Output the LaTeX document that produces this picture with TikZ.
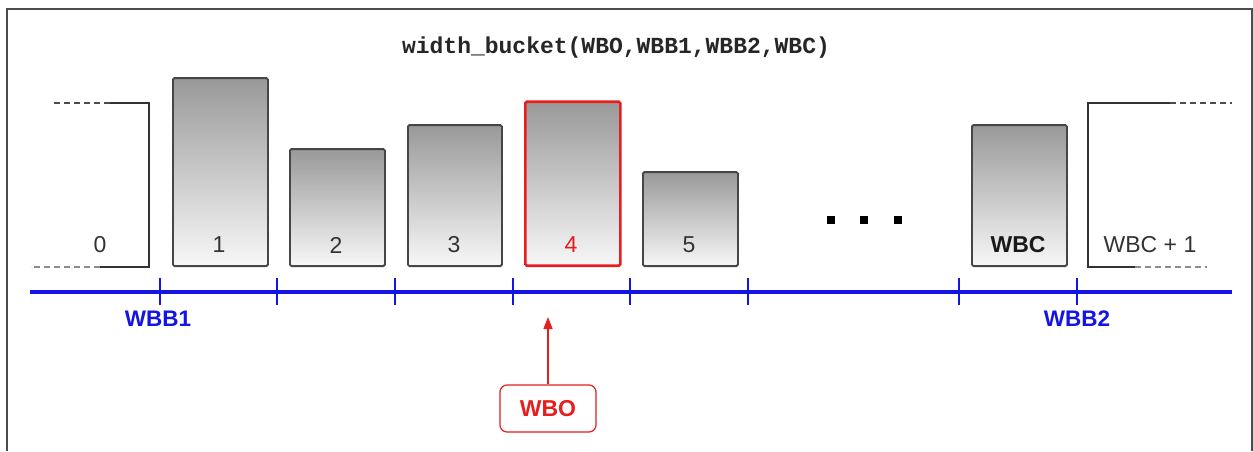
\documentclass[tikz,border=0pt]{standalone}
\usepackage{fontspec}
\setmainfont{Liberation Sans}
\newfontfamily\monob{Liberation Mono}
\usetikzlibrary{arrows.meta}
\definecolor{axisblue}{RGB}{20,20,230}
\definecolor{wbred}{RGB}{230,30,30}
\definecolor{barline}{RGB}{70,70,70}
\tikzset{
  bar/.style={draw=barline, line width=1.8pt, rounded corners=1.5pt, top color=black!40, bottom color=black!3, inner sep=0pt, anchor=south west},
  numtxt/.style={font=\fontsize{23}{26}\selectfont, text=black!80, inner sep=0pt},
  bluetxt/.style={font=\fontsize{22.5}{26}\selectfont\bfseries, text=axisblue, inner sep=0pt},
  tickline/.style={draw=axisblue, line width=2.8pt},
  openbox/.style={draw=black!80, line width=1.4pt},
  dashline/.style={draw=black!70, line width=1.4pt, dash pattern=on 6pt off 4pt},
  dotsq/.style={fill=black, minimum size=8pt, inner sep=0pt},
}
\begin{document}
\begin{tikzpicture}[x=1pt,y=-1pt]
\useasboundingbox (0,0) rectangle (1253,451);
\fill[white] (0,0) rectangle (1253,451);
% frame
\draw[black!70, line width=1.6pt] (7,451) -- (7,9) -- (1252,9) -- (1252,451);
% title
\node[font=\monob\fontsize{23}{26}\selectfont\bfseries, text=black!85, inner sep=0pt] (title) at (616,48) {width\_bucket(WBO,WBB1,WBB2,WBC)};
% open box 0
\draw[openbox] (110,103) -- (149,103) -- (149,267) -- (100,267);
\draw[dashline] (110,103) -- (53,103);
\draw[dashline, draw=black!45] (100,267) -- (30,267);
\node[numtxt] (t0) at (100,245) {0};
% bars
\node[bar, minimum width=95pt, minimum height=188pt] (b1) at (172,267) {};
\node[bar, minimum width=95pt, minimum height=117pt] (b2) at (289,267) {};
\node[bar, minimum width=94pt, minimum height=141pt] (b3) at (407,267) {};
\node[bar, draw=wbred, line width=2.6pt, minimum width=95pt, minimum height=164pt] (b4) at (524,267) {};
\node[bar, minimum width=95pt, minimum height=94pt] (b5) at (642,267) {};
\node[bar, minimum width=95pt, minimum height=141pt] (bc) at (971,267) {};
\node[numtxt] (t1) at (219,245) {1};
\node[numtxt] (t2) at (336,245) {2};
\node[numtxt] (t3) at (454,245) {3};
\node[numtxt, text=wbred] (t4) at (571,245) {4};
\node[numtxt] (t5) at (689,245) {5};
\node[numtxt, font=\fontsize{23}{26}\selectfont\bfseries, text=black!90] (tc) at (1018,245) {WBC};
% dots
\node[dotsq] (d1) at (831,220) {};
\node[dotsq] (d2) at (864,220) {};
\node[dotsq] (d3) at (898,220) {};
% open box WBC+1
\draw[openbox] (1170,103) -- (1088,103) -- (1088,267) -- (1135,267);
\draw[dashline] (1170,103) -- (1232,103);
\draw[dashline, draw=black!45] (1135,267) -- (1207,267);
\node[numtxt] (tc1) at (1150,245) {WBC + 1};
% axis
\coordinate (axL) at (30,292);
\coordinate (axR) at (1232,292);
\draw[axisblue, line width=4pt] (axL) -- (axR);
\foreach \x in {160,277,395,513,630,748,959,1077}
  \draw[tickline] (\x,278) -- (\x,305);
\node[bluetxt] (wbb1) at (158,319) {WBB1};
\node[bluetxt] (wbb2) at (1077,319) {WBB2};
% WBO
\node[draw=wbred, line width=1.2pt, rounded corners=7pt, minimum width=96pt, minimum height=47pt, inner sep=0pt, text=wbred, font=\fontsize{23}{26}\selectfont\bfseries] (wbo) at (548,408.5) {WBO};
\coordinate (wbotip) at (548,317);
\draw[wbred, line width=1.4pt, -{Triangle[length=12pt,width=9pt]}] (wbo.north) -- (wbotip);
\end{tikzpicture}
\end{document}
